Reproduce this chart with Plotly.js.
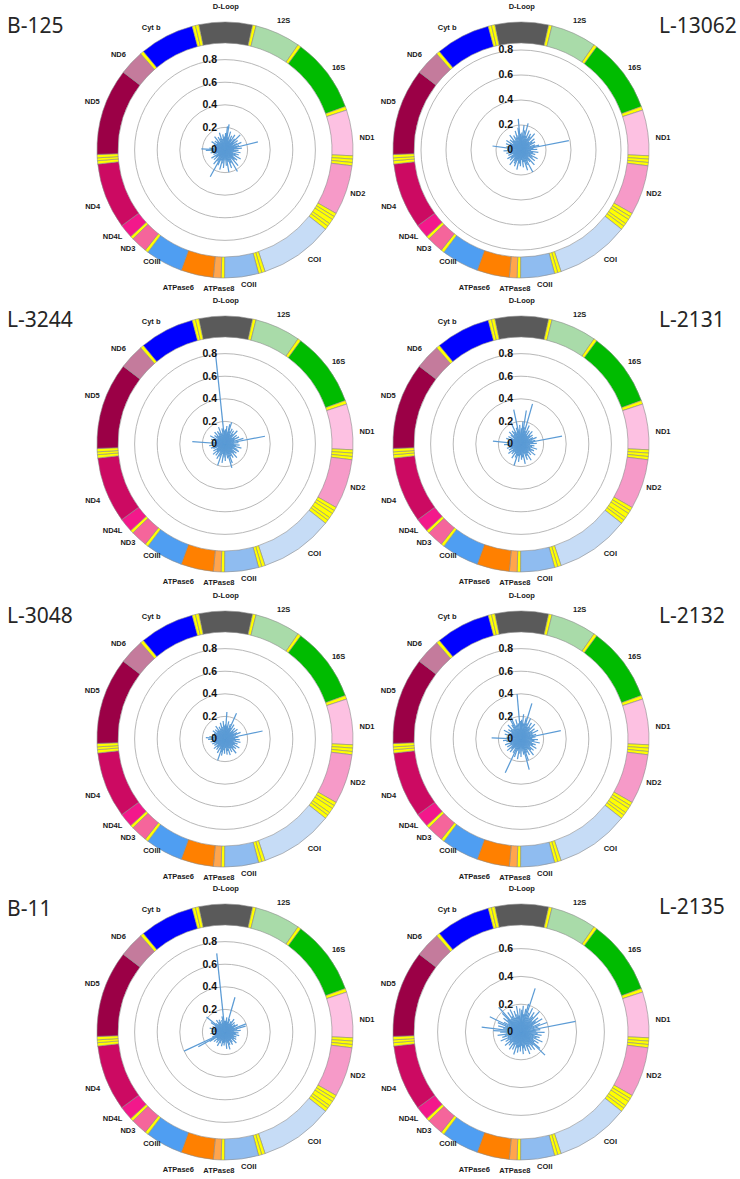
<!DOCTYPE html>
<html><head><meta charset="utf-8">
<script src="https://cdn.plot.ly/plotly-3.0.1.min.js"></script>
<style>html,body{margin:0;padding:0;background:#fff;}#chart{width:740px;height:1179px;}</style>
</head><body><div id="chart"></div>
<script>
// ---------- mtDNA map (bp, rCRS) ----------
const GENOME = 16569;
const geneNames = ['D-Loop','tRNA-Phe','12S','tRNA-Val','16S','tRNA-Leu1','ND1','tRNA-Ile','tRNA-Gln','tRNA-Met','ND2','tRNA-Trp','tRNA-Ala','tRNA-Asn','tRNA-Cys','tRNA-Tyr','COI','tRNA-Ser1','tRNA-Asp','COII','tRNA-Lys','ATPase8','ATPase6','COIII','tRNA-Gly','ND3','tRNA-Arg','ND4L','ND4','tRNA-His','tRNA-Ser2','tRNA-Leu2','ND5','ND6','tRNA-Glu','Cyt b','tRNA-Thr','tRNA-Pro'];
const geneStart = [16024,577,648,1602,1671,3230,3307,4263,4331,4402,4470,5512,5587,5657,5761,5826,5904,7446,7518,7586,8295,8366,8527,9207,9991,10059,10405,10470,10760,12138,12207,12266,12337,14149,14674,14747,15888,15956];
const geneEnd   = [576,647,1601,1670,3229,3306,4262,4330,4401,4469,5511,5586,5656,5760,5825,5903,7445,7517,7585,8294,8365,8526,9206,9990,10058,10404,10469,10759,12137,12206,12265,12336,14148,14673,14746,15887,15955,16023];
const geneColors = ['#5a5a5a','#ffff00','#a9dba9','#ffff00','#00bb00','#ffff00','#fdc1e2','#ffff00','#ffff00','#ffff00','#f69ac8','#ffff00','#ffff00','#ffff00','#ffff00','#ffff00','#c6dcf6','#ffff00','#ffff00','#8fbcf0','#ffff00','#ffa54d','#ff8000','#4f9ef2','#ffff00','#f5659b','#ffff00','#f3188b','#cc0a62','#ffff00','#ffff00','#ffff00','#9b0046','#c47b9c','#ffff00','#0000ff','#ffff00','#ffff00'];

// ---------- panels ----------
const panelNames = ['B-125','L-13062','L-3244','L-2131','L-3048','L-2132','B-11','L-2135'];

// spike angle (degrees clockwise from the origin at top) and value
const b125Angle = [2,6,9,13,17,21,25,29,33,37,41,45,49,53,57,61,65,69,73,76,80,84,88,92,96,100,105,110,115,120,125,130,135,140,145,150,155,160,165,170,175,180,185,190,195,200,205,209,214,219,224,229,234,239,244,249,254,259,264,269,273,277,282,287,292,297,302,307,312,317,322,327,332,337,342,347,352,357];
const b125Value = [0.15,0.21,0.23,0.12,0.17,0.09,0.14,0.11,0.16,0.08,0.13,0.19,0.10,0.14,0.07,0.12,0.16,0.09,0.13,0.30,0.11,0.15,0.08,0.12,0.10,0.14,0.07,0.13,0.11,0.16,0.09,0.14,0.12,0.18,0.10,0.22,0.13,0.17,0.11,0.20,0.14,0.09,0.16,0.12,0.18,0.10,0.15,0.27,0.12,0.16,0.08,0.13,0.10,0.14,0.07,0.11,0.09,0.13,0.12,0.17,0.21,0.14,0.10,0.12,0.08,0.11,0.14,0.09,0.12,0.10,0.15,0.08,0.13,0.11,0.16,0.10,0.14,0.12];

const l13062Angle = [3,7,11,15,19,23,27,31,35,40,45,50,55,60,65,70,75,79,83,88,93,98,103,108,113,118,123,128,133,138,143,148,152,157,162,167,172,177,182,187,192,197,202,207,212,217,222,227,232,237,242,247,252,257,262,267,272,278,283,288,293,298,303,308,313,318,323,328,333,338,343,348,352,355,358];
const l13062Value = [0.14,0.20,0.16,0.22,0.12,0.17,0.10,0.15,0.13,0.17,0.09,0.14,0.11,0.13,0.08,0.12,0.15,0.39,0.10,0.13,0.08,0.14,0.10,0.12,0.09,0.15,0.11,0.14,0.08,0.16,0.12,0.10,0.20,0.13,0.17,0.10,0.14,0.08,0.13,0.11,0.16,0.09,0.14,0.12,0.10,0.15,0.08,0.12,0.10,0.13,0.07,0.11,0.09,0.12,0.10,0.14,0.11,0.23,0.12,0.09,0.13,0.10,0.14,0.08,0.12,0.10,0.15,0.09,0.13,0.11,0.16,0.12,0.18,0.25,0.13];

const l3244Angle = [2,6,10,14,17,21,25,29,33,38,43,48,53,58,63,68,73,79,84,89,94,99,104,109,114,119,124,129,134,139,144,149,154,159,164,169,174,179,184,189,194,199,204,209,214,219,224,229,234,239,244,249,254,259,264,269,274,279,284,289,294,299,304,309,314,319,324,329,334,339,344,349,354,357];
const l3244Value = [0.13,0.16,0.11,0.18,0.20,0.12,0.15,0.09,0.14,0.11,0.16,0.08,0.13,0.10,0.14,0.09,0.17,0.36,0.12,0.08,0.13,0.10,0.15,0.09,0.12,0.14,0.08,0.13,0.11,0.16,0.10,0.14,0.12,0.18,0.22,0.13,0.10,0.15,0.12,0.17,0.09,0.20,0.12,0.15,0.08,0.13,0.10,0.14,0.09,0.12,0.07,0.11,0.13,0.09,0.14,0.11,0.29,0.12,0.09,0.13,0.10,0.15,0.08,0.12,0.10,0.14,0.09,0.13,0.11,0.16,0.10,0.14,0.80,0.12];

const l2131Angle = [2,5,9,12,16,20,24,28,32,37,42,47,52,57,62,67,72,76,79,83,88,93,98,103,108,113,118,123,128,133,138,143,148,153,158,163,168,173,178,183,188,193,198,203,208,213,218,223,228,233,238,243,248,253,258,263,268,272,276,281,286,291,296,301,306,311,316,321,326,331,335,340,344,348,352,356];
const l2131Value = [0.14,0.20,0.30,0.15,0.37,0.12,0.18,0.10,0.14,0.09,0.15,0.11,0.13,0.08,0.12,0.15,0.10,0.13,0.37,0.11,0.14,0.08,0.12,0.10,0.15,0.09,0.13,0.11,0.16,0.09,0.13,0.10,0.17,0.12,0.15,0.09,0.18,0.12,0.14,0.10,0.16,0.11,0.20,0.13,0.10,0.15,0.09,0.12,0.10,0.14,0.08,0.12,0.10,0.13,0.09,0.12,0.15,0.11,0.25,0.12,0.09,0.14,0.10,0.13,0.08,0.12,0.15,0.10,0.14,0.12,0.22,0.11,0.15,0.31,0.13,0.17];

const l3048Angle = [2,4,8,12,16,20,24,28,32,37,42,47,52,57,62,67,72,78,82,87,92,97,102,107,112,117,122,127,132,137,142,147,152,157,162,167,172,177,182,187,192,196,199,204,209,214,219,224,229,234,239,244,249,254,259,264,269,274,279,284,289,294,299,304,309,314,319,324,329,334,339,344,349,354,358];
const l3048Value = [0.13,0.24,0.12,0.16,0.10,0.14,0.25,0.11,0.15,0.08,0.13,0.10,0.14,0.09,0.12,0.15,0.10,0.34,0.12,0.09,0.13,0.10,0.14,0.08,0.12,0.10,0.15,0.09,0.13,0.11,0.16,0.10,0.13,0.09,0.15,0.11,0.14,0.08,0.13,0.10,0.15,0.12,0.20,0.10,0.14,0.08,0.12,0.10,0.13,0.08,0.11,0.09,0.12,0.10,0.13,0.11,0.15,0.17,0.14,0.10,0.12,0.08,0.11,0.13,0.09,0.12,0.10,0.14,0.09,0.12,0.10,0.15,0.11,0.16,0.12];

const l2132Angle = [2,6,10,14,17,21,25,29,33,38,43,48,53,58,63,68,73,78,82,87,92,97,102,107,112,117,122,127,132,137,142,147,152,157,161,165,170,175,180,185,190,195,200,205,210,215,220,225,230,235,240,245,250,255,260,265,272,277,282,287,292,297,302,307,312,317,322,327,331,335,340,345,350,355,358];
const l2132Value = [0.17,0.22,0.14,0.19,0.33,0.15,0.20,0.12,0.17,0.13,0.18,0.10,0.15,0.12,0.17,0.11,0.14,0.36,0.13,0.10,0.15,0.12,0.17,0.10,0.14,0.12,0.16,0.10,0.15,0.13,0.18,0.11,0.16,0.13,0.20,0.28,0.14,0.11,0.16,0.13,0.18,0.11,0.17,0.33,0.14,0.10,0.15,0.12,0.16,0.10,0.14,0.11,0.15,0.10,0.13,0.16,0.26,0.13,0.10,0.15,0.12,0.17,0.10,0.14,0.12,0.17,0.11,0.15,0.20,0.26,0.13,0.18,0.14,0.40,0.16];

const b11Angle = [3,7,11,16,20,25,30,35,40,45,50,55,60,65,69,74,79,84,89,94,99,104,109,114,119,124,129,134,139,144,149,154,159,164,169,174,179,184,189,194,199,204,209,214,219,224,229,234,238,241,245,249,254,259,264,269,274,279,284,289,294,299,304,309,314,319,324,329,334,339,344,349,354,357];
const b11Value = [0.10,0.13,0.09,0.32,0.12,0.08,0.11,0.14,0.09,0.12,0.08,0.11,0.13,0.09,0.20,0.19,0.11,0.14,0.08,0.12,0.10,0.13,0.08,0.11,0.09,0.12,0.10,0.14,0.08,0.11,0.13,0.09,0.12,0.16,0.10,0.15,0.09,0.12,0.10,0.13,0.08,0.11,0.14,0.09,0.12,0.10,0.13,0.09,0.16,0.27,0.40,0.12,0.09,0.11,0.13,0.08,0.12,0.10,0.14,0.09,0.12,0.10,0.15,0.21,0.11,0.09,0.13,0.10,0.12,0.08,0.11,0.14,0.70,0.10];

const l2135Angle = [2,5,9,12,15,18,22,26,30,34,38,42,46,50,54,58,62,66,70,74,79,83,87,91,95,99,103,107,111,115,119,123,127,131,134,138,142,146,150,154,158,162,166,170,174,178,182,186,190,194,198,202,206,210,214,218,222,226,230,234,238,242,246,250,254,258,262,266,270,273,277,281,285,289,292,296,300,304,308,312,315,318,322,326,330,334,338,342,346,350,354,357];
const l2135Value = [0.16,0.19,0.13,0.17,0.21,0.33,0.15,0.19,0.12,0.17,0.14,0.20,0.11,0.16,0.13,0.18,0.10,0.15,0.20,0.13,0.40,0.14,0.11,0.17,0.12,0.15,0.10,0.14,0.12,0.17,0.10,0.15,0.12,0.18,0.24,0.13,0.16,0.11,0.15,0.12,0.17,0.10,0.14,0.12,0.16,0.10,0.14,0.11,0.15,0.12,0.17,0.10,0.14,0.11,0.15,0.09,0.13,0.11,0.15,0.10,0.13,0.11,0.16,0.10,0.14,0.12,0.17,0.11,0.15,0.20,0.285,0.13,0.17,0.12,0.18,0.25,0.14,0.11,0.16,0.13,0.19,0.24,0.12,0.17,0.13,0.18,0.11,0.16,0.13,0.19,0.12,0.17];

const spikeAngles = [b125Angle,l13062Angle,l3244Angle,l2131Angle,l3048Angle,l2132Angle,b11Angle,l2135Angle];
const spikeValues = [b125Value,l13062Value,l3244Value,l2131Value,l3048Value,l2132Value,b11Value,l2135Value];

const radialMax = [0.947,0.856,0.947,0.947,0.947,0.947,0.947,0.77];
const tickSetA = [0,0.2,0.4,0.6,0.8];
const tickSetB = [0,0.2,0.4,0.6];
const radialTicks = [tickSetA,tickSetA,tickSetA,tickSetA,tickSetA,tickSetA,tickSetA,tickSetB];

// ---------- geometry (layout only) ----------
const W = 740, H = 1179;
const colCx = [225,521], rowCy = [150,444,739,1032];
const ringPx = 146, dataPx = 107, ringBase = 107, ringWidth = 21;
const titlePos = [[5,25],[657,25],[5,319],[657,319],[5,615],[657,615],[5,908],[657,906]];
// label placement: default radius and per-label nudges (angle offset in degrees, radius in px)
const labelRDefault = 141.5;
const labelNudge = {'COII':[-2.5,137],'ATPase8':[-1,139.5],'ATPase6':[6,146],'COIII':[4.5,134],'ND3':[2,139],'ND4L':[1.5,142.5],'ND4':[-2,144],'ND5':[2,141],'ND6':[-1.5,142.5],'Cyt b':[-4,142.5],'12S':[0,142],'16S':[1,140],'ND1':[3,142.5],'ND2':[0,140],'COI':[-4,142],'D-Loop':[0,143]};

const toDeg = bp => bp / GENOME * 360;
const segTheta = [], segWidth = [];
geneNames.forEach((n,i) => {
  let s = geneStart[i], e = geneEnd[i];
  if (e < s) e += GENOME;
  const len = e - s + 1;
  segTheta.push(toDeg(s - 1 + len / 2) % 360);
  segWidth.push(toDeg(len));
});
const labelIdx = geneNames.map((n,i)=>i).filter(i => !geneNames[i].startsWith('tRNA'));
const labelTheta = labelIdx.map(j => segTheta[j] + ((labelNudge[geneNames[j]] || [0])[0]));
const labelR = labelIdx.map(j => (labelNudge[geneNames[j]] ? labelNudge[geneNames[j]][1] : labelRDefault));

const traces = [];
const layout = {
  width: W, height: H, margin: {l:0,r:0,t:0,b:0},
  paper_bgcolor: '#fff', showlegend: false, annotations: []
};
const key = k => k === 1 ? 'polar' : 'polar' + k;
const NB = '\u00a0\u00a0';

panelNames.forEach((name, i) => {
  const cx = colCx[i % 2], cy = rowCy[Math.floor(i / 2)];
  const kr = 2 * i + 1, kd = 2 * i + 2;
  layout[key(kr)] = {
    domain: {x: [(cx - ringPx) / W, (cx + ringPx) / W], y: [1 - (cy + ringPx) / H, 1 - (cy - ringPx) / H]},
    bgcolor: 'rgba(0,0,0,0)',
    radialaxis: {visible: false, range: [0, ringPx]},
    angularaxis: {visible: false, direction: 'clockwise', rotation: 90}
  };
  layout[key(kd)] = {
    domain: {x: [(cx - dataPx) / W, (cx + dataPx) / W], y: [1 - (cy + dataPx) / H, 1 - (cy - dataPx) / H]},
    bgcolor: 'rgba(0,0,0,0)',
    radialaxis: {
      range: [0, radialMax[i]], autorange: false, tickmode: 'array',
      tickvals: radialTicks[i], ticktext: radialTicks[i].map(v => String(v) + NB),
      angle: 90, side: 'counterclockwise', tickangle: 90, layer: 'above traces',
      showline: false, ticks: '', showgrid: true, gridcolor: '#b8b8b8', gridwidth: 1,
      tickfont: {family: 'Liberation Sans, Arial, sans-serif', size: 10.5, color: '#111', weight: 'bold'}
    },
    angularaxis: {direction: 'clockwise', rotation: 90, showline: false, showgrid: false, showticklabels: false, ticks: ''}
  };
  // gene ring
  traces.push({
    type: 'barpolar', subplot: key(kr),
    theta: segTheta, width: segWidth,
    r: geneNames.map(() => ringWidth), base: geneNames.map(() => ringBase),
    marker: {color: geneColors, line: {color: '#8c8c8c', width: 0.6}},
    hoverinfo: 'skip'
  });
  // gene labels
  traces.push({
    type: 'scatterpolar', subplot: key(kr), mode: 'text',
    r: labelR, theta: labelTheta,
    text: labelIdx.map(j => geneNames[j]), textposition: 'middle center',
    textfont: {family: 'Liberation Sans, Arial, sans-serif', size: 7.5, color: '#1a1a1a', weight: 'bold'},
    cliponaxis: false, hoverinfo: 'skip'
  });
  // spikes
  const r = [], th = [];
  spikeAngles[i].forEach((a, j) => { r.push(0, spikeValues[i][j], null); th.push(a, a, null); });
  traces.push({
    type: 'scatterpolar', subplot: key(kd), mode: 'lines',
    r: r, theta: th, line: {color: '#5b9bd5', width: 1.25}, hoverinfo: 'skip'
  });
  layout.annotations.push({
    text: name, xref: 'paper', yref: 'paper',
    x: titlePos[i][0] / W, y: 1 - titlePos[i][1] / H, xanchor: 'left', yanchor: 'middle',
    showarrow: false, font: {family: 'Noto Sans, sans-serif', size: 21, color: '#262626'}
  });
});

Plotly.newPlot('chart', traces, layout, {staticPlot: true});
</script>
</body></html>
